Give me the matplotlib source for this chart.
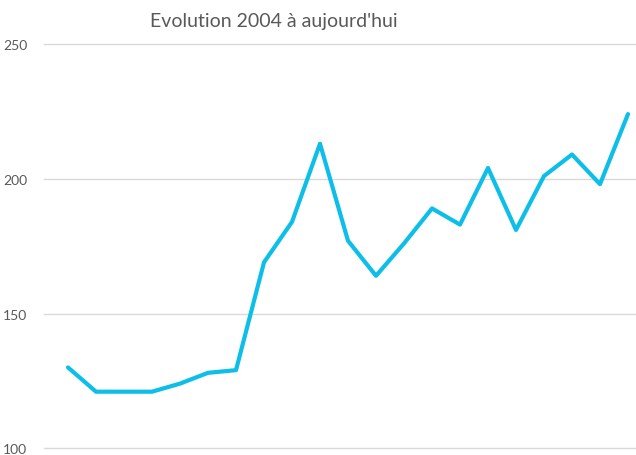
import numpy as np
import matplotlib.pyplot as plt

# yearly values, 2004 onwards
years = list(range(2004, 2025))
values = [130, 121, 121, 121, 124, 128, 129, 169, 184, 213, 177,
          164, 176, 189, 183, 204, 181, 201, 209, 198, 224]
y_ticks = [100, 150, 200, 250]

plt.rcParams['font.family'] = ['Lato', 'DejaVu Sans']

W, H = 636, 456
fig = plt.figure(figsize=(W / 100, H / 100), dpi=100)
# axes placed in pixel terms: left 44, right 636, top 45, bottom 449
ax = fig.add_axes([44 / W, (H - 449.3) / H, (636 - 44) / W, (449.3 - 45) / H])

x = np.arange(len(values))
ax.plot(x, values, color='#0DBFE8', lw=3.0, solid_joinstyle='round',
        solid_capstyle='round', clip_on=False, zorder=3)

ax.set_ylim(100, 250)
ax.set_xlim(-24 / 28, len(values) - 1 + 8 / 28)
ax.set_yticks(y_ticks)
ax.set_xticks([])
ax.grid(axis='y', color='#d9d9d9', lw=1.0)
for gl in ax.get_ygridlines():
    gl.set_clip_on(False)
ax.set_axisbelow(True)
for s in ax.spines.values():
    s.set_visible(False)
ax.tick_params(axis='y', length=0, pad=12, labelsize=10, labelcolor='#595959')

fig.text(274 / W, 1 - 22 / H, "Evolution 2004 à aujourd'hui", ha='center',
         va='center', fontsize=14, color='#595959')

fig.savefig('out.png', dpi=100)
